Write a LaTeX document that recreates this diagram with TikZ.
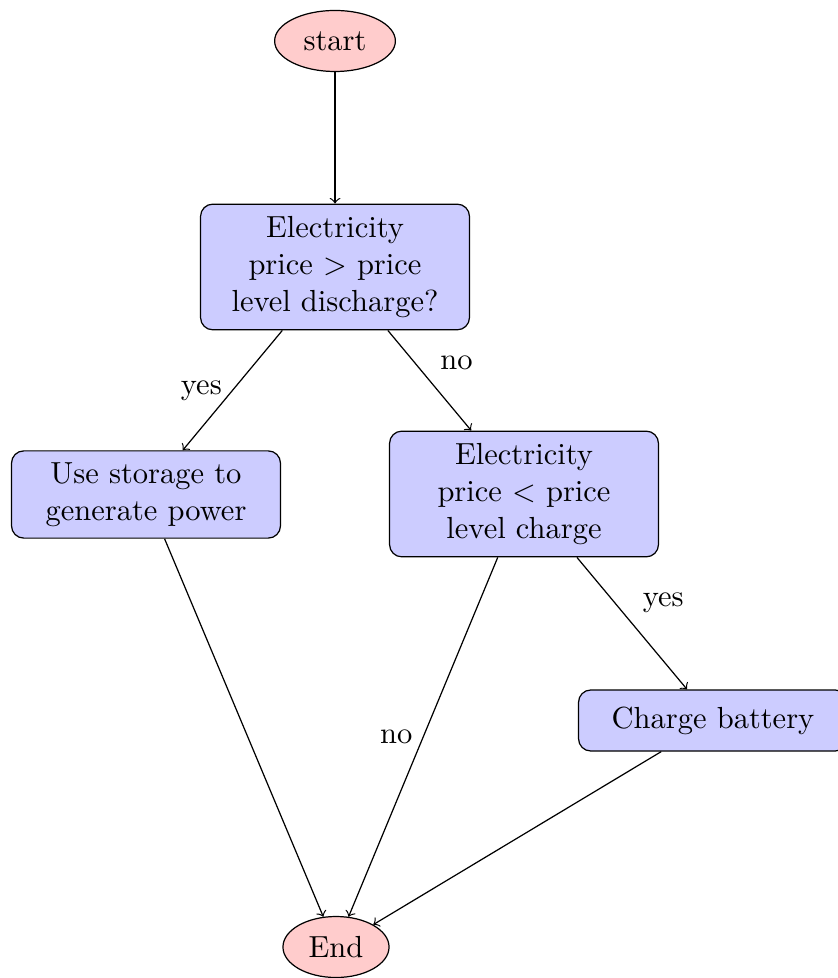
\documentclass[tikz,border=0pt]{standalone}
\usetikzlibrary{shapes.geometric}
\begin{document}
\begin{tikzpicture}[x=0.32787pt, y=-0.32787pt,
  cloud/.style={draw, ellipse, fill=red!20, minimum height=2em},
  block/.style={draw, rectangle, fill=blue!20, rounded corners,
    text width=81.5pt, align=center, minimum height=2em},
  tall/.style={minimum height=41.2pt},
  mid/.style={minimum height=28.6pt},
  line/.style={draw, ->}]
\useasboundingbox (0,0) rectangle (838,978);
% nodes
\node[cloud, minimum width=39.6pt] (start) at (335,41) {start};
\node[block, tall] (discharge) at (335,267) {Electricity\\ price $>$ price\\ level discharge?};
\node[block, mid] (use) at (146,494.5) {Use storage to\\ generate power};
\node[block, tall] (chargeq) at (524,494) {Electricity\\ price $<$ price\\ level charge};
\node[block] (battery) at (713,720.5) {Charge battery};
\node[cloud] (end) at (336,947) {End};
% connectors
\path[line] (start) -- (discharge);
\path[line] (discharge) -- node[midway, left] {yes} (use);
\path[line] (discharge) -- node[midway, above right] {no} (chargeq);
\path[line] (use) -- (end);
\path[line] (chargeq) -- node[midway, left] {no} (end);
\path[line] (chargeq) -- node[midway, above right] {yes} (battery);
\path[line] (battery) -- (end);
\end{tikzpicture}
\end{document}
